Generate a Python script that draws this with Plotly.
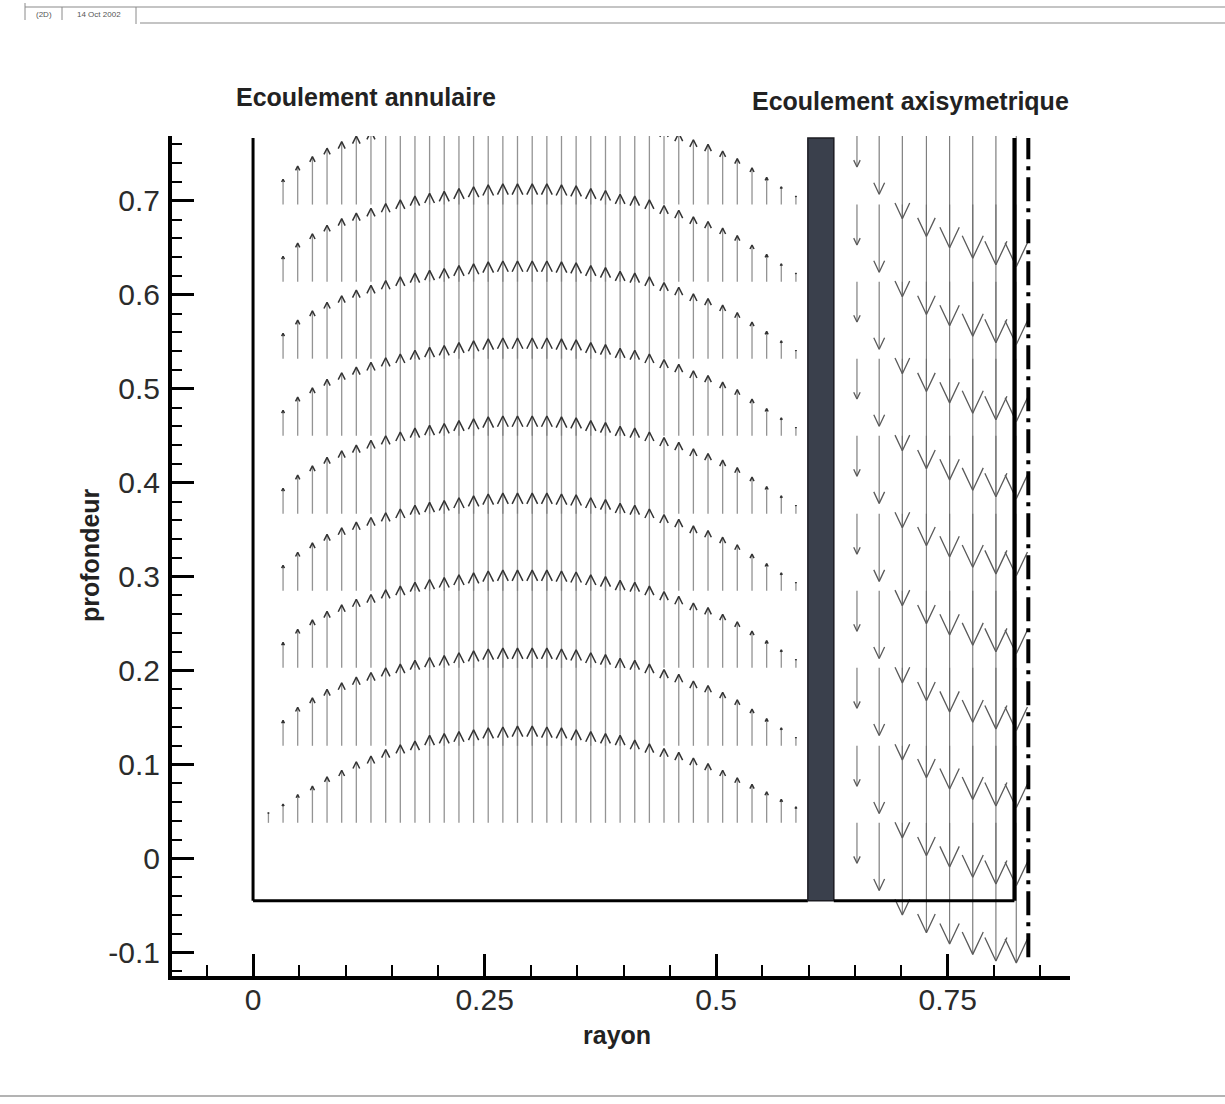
import plotly.graph_objects as go

# ---------------- data ----------------
# Annular region ("Ecoulement annulaire"): upward velocity vectors
ann_cols = [0.0166, 0.0324, 0.0482, 0.0641, 0.0799, 0.0957, 0.1115, 0.1273, 0.1432,
            0.1590, 0.1748, 0.1906, 0.2064, 0.2223, 0.2381, 0.2539, 0.2697, 0.2855,
            0.3014, 0.3172, 0.3330, 0.3488, 0.3646, 0.3805, 0.3963, 0.4121, 0.4279,
            0.4437, 0.4596, 0.4754, 0.4912, 0.5070, 0.5228, 0.5387, 0.5545, 0.5703,
            0.5861]
ann_rows = [0.038, 0.120, 0.203, 0.285, 0.367, 0.450, 0.532, 0.614, 0.696]
# vector length (in profondeur units) for the first row and for the rows above
ann_len_row0 = [0.011, 0.020, 0.030, 0.039, 0.049, 0.056, 0.065, 0.071, 0.078, 0.083,
                0.087, 0.093, 0.095, 0.097, 0.099, 0.101, 0.102, 0.103, 0.103, 0.102,
                0.101, 0.099, 0.097, 0.095, 0.093, 0.088, 0.084, 0.079, 0.075, 0.069,
                0.063, 0.056, 0.048, 0.041, 0.033, 0.025, 0.017]
ann_len_upper = [0.0, 0.027, 0.041, 0.051, 0.060, 0.067, 0.073, 0.078, 0.083, 0.087,
                 0.091, 0.094, 0.096, 0.099, 0.101, 0.103, 0.104, 0.104, 0.104, 0.104,
                 0.103, 0.102, 0.099, 0.097, 0.093, 0.091, 0.087, 0.081, 0.076, 0.069,
                 0.064, 0.057, 0.049, 0.039, 0.029, 0.019, 0.009]

# Axisymmetric region ("Ecoulement axisymetrique"): downward vectors
axi_cols = [0.652, 0.676, 0.701, 0.727, 0.752, 0.777, 0.802, 0.824]
axi_rows = [0.038, 0.120, 0.203, 0.285, 0.367, 0.450, 0.532, 0.614, 0.696, 0.779]
axi_len = [0.043, 0.072, 0.098, 0.117, 0.129, 0.140, 0.147, 0.149]

# geometry of the domain
wall_left_x = 0.0
wall_bottom_y = -0.045
domain_top_y = 0.767
bar_x0, bar_x1 = 0.599, 0.627
outer_wall_x = 0.822
sym_axis_x = 0.837
sym_axis_bottom = -0.105

x_tick_vals = [0, 0.25, 0.5, 0.75]
x_tick_text = ["0", "0.25", "0.5", "0.75"]
y_tick_vals = [-0.1, 0, 0.1, 0.2, 0.3, 0.4, 0.5, 0.6, 0.7]
y_tick_text = ["-0.1", "0", "0.1", "0.2", "0.3", "0.4", "0.5", "0.6", "0.7"]

# ---------------- layout constants ----------------
W, H = 1225, 1104
ML, MR, MT, MB = 172, 155, 136, 128
X_RANGE = [-0.0875, 0.882]
Y_RANGE = [-0.125, 0.769]
PW, PH = W - ML - MR, H - MT - MB
PX_X = PW / (X_RANGE[1] - X_RANGE[0])
PX_Y = PH / (Y_RANGE[1] - Y_RANGE[0])


def px_to_paper(px, py):
    return (px - ML) / PW, (H - MB - py) / PH


def build_arrows(cols, rows, len_for_row, sign, head_frac, tan_half):
    sx, sy, hx, hy = [], [], [], []
    for k, y0 in enumerate(rows):
        lens = len_for_row(k)
        for x, L in zip(cols, lens):
            if L <= 0:
                continue
            tip = y0 + sign * L
            sx += [x, x, None]
            sy += [y0, tip, None]
            h = head_frac * L
            w = h * tan_half * PX_Y / PX_X
            base = tip - sign * h
            hx += [x - w, x, x + w, None]
            hy += [base, tip, base, None]
    return sx, sy, hx, hy


ax_sx, ax_sy, ax_hx, ax_hy = build_arrows(
    ann_cols, ann_rows, lambda k: ann_len_row0 if k == 0 else ann_len_upper,
    +1, 0.11, 0.5)
ay_sx, ay_sy, ay_hx, ay_hy = build_arrows(
    axi_cols, axi_rows, lambda k: axi_len, -1, 0.17, 0.47)

fig = go.Figure()
fig.add_trace(go.Scatter(x=ax_sx, y=ax_sy, mode="lines",
                         line=dict(color="rgba(120,120,120,0.8)", width=1.3),
                         hoverinfo="skip", showlegend=False))
fig.add_trace(go.Scatter(x=ax_hx, y=ax_hy, mode="lines",
                         line=dict(color="#333333", width=1.5),
                         hoverinfo="skip", showlegend=False))
fig.add_trace(go.Scatter(x=ay_sx, y=ay_sy, mode="lines",
                         line=dict(color="rgba(105,105,105,0.85)", width=1.2),
                         hoverinfo="skip", showlegend=False))
fig.add_trace(go.Scatter(x=ay_hx, y=ay_hy, mode="lines",
                         line=dict(color="#5a5a5a", width=1.3),
                         hoverinfo="skip", showlegend=False))

shapes = [
    # annular left wall and bottom
    dict(type="line", xref="x", yref="y", x0=wall_left_x, x1=wall_left_x,
         y0=wall_bottom_y, y1=domain_top_y, line=dict(color="black", width=3)),
    dict(type="line", xref="x", yref="y", x0=wall_left_x, x1=bar_x0,
         y0=wall_bottom_y, y1=wall_bottom_y, line=dict(color="black", width=3)),
    # inner tube wall (thick bar)
    dict(type="rect", xref="x", yref="y", x0=bar_x0, x1=bar_x1,
         y0=wall_bottom_y, y1=domain_top_y, fillcolor="#3a404c",
         line=dict(color="#1c1c22", width=1.5)),
    # axisymmetric region bottom and outer line
    dict(type="line", xref="x", yref="y", x0=bar_x1, x1=outer_wall_x,
         y0=wall_bottom_y, y1=wall_bottom_y, line=dict(color="black", width=3)),
    dict(type="line", xref="x", yref="y", x0=outer_wall_x, x1=outer_wall_x,
         y0=wall_bottom_y, y1=domain_top_y, line=dict(color="black", width=4)),
    # symmetry axis (dash-dot)
    dict(type="line", xref="x", yref="y", x0=sym_axis_x, x1=sym_axis_x,
         y0=sym_axis_bottom, y1=domain_top_y,
         line=dict(color="black", width=4, dash="24px,7px,4px,7px")),
]

# page decorations (scanned sheet header and borders)
for (px0, py0, px1, py1, col, wd) in [
        (25, 7, 1225, 7, "#8a8a8a", 1.2),
        (140, 23, 1225, 23, "#b0b0b0", 1.5),
        (0, 1096, 1225, 1096, "#9a9a9a", 1.5),
        (25, 3, 25, 20, "#8a8a8a", 1),
        (62, 7, 62, 20, "#8a8a8a", 1),
        (136, 7, 136, 24, "#8a8a8a", 1)]:
    a0 = px_to_paper(px0, py0)
    a1 = px_to_paper(px1, py1)
    shapes.append(dict(type="line", xref="paper", yref="paper",
                       x0=a0[0], y0=a0[1], x1=a1[0], y1=a1[1],
                       line=dict(color=col, width=wd)))

annotations = []


def add_text(text, px, py, size, bold=True, angle=0, color="#222222"):
    xp, yp = px_to_paper(px, py)
    annotations.append(dict(text=f"<b>{text}</b>" if bold else text,
                            xref="paper", yref="paper", x=xp, y=yp,
                            xanchor="center", yanchor="middle",
                            showarrow=False, textangle=angle,
                            font=dict(family="Liberation Sans, Arial, sans-serif",
                                      size=size, color=color)))


add_text("Ecoulement annulaire", 366, 97, 25)
add_text("Ecoulement axisymetrique", 910, 101, 25)
add_text("rayon", 617, 1035, 25)
add_text("profondeur", 90, 555, 25, angle=-90)
add_text("(2D)", 44, 14, 8, bold=False, color="#555")
add_text("14 Oct 2002", 99, 14, 8, bold=False, color="#555")

tick_font = dict(family="Liberation Sans, Arial, sans-serif", size=30, color="#2b2b2b")

fig.update_layout(
    width=W, height=H,
    margin=dict(l=ML, r=MR, t=MT, b=MB, autoexpand=False),
    paper_bgcolor="white", plot_bgcolor="white",
    shapes=shapes, annotations=annotations,
    xaxis=dict(range=X_RANGE, showgrid=False, zeroline=False,
               showline=True, linecolor="black", linewidth=4, mirror=False,
               tickmode="array", tickvals=x_tick_vals, ticktext=x_tick_text,
               ticks="inside", ticklen=22, tickwidth=3, tickcolor="black",
               tickfont=tick_font, ticklabelstandoff=-6,
               minor=dict(tickmode="linear", tick0=0, dtick=0.05, ticks="inside",
                          ticklen=11, tickwidth=1.6, tickcolor="black")),
    yaxis=dict(range=Y_RANGE, showgrid=False, zeroline=False,
               showline=True, linecolor="black", linewidth=4, mirror=False,
               tickmode="array", tickvals=y_tick_vals, ticktext=y_tick_text,
               ticks="inside", ticklen=22, tickwidth=3, tickcolor="black",
               tickfont=tick_font, ticklabelstandoff=2,
               minor=dict(tickmode="linear", tick0=0, dtick=0.02, ticks="inside",
                          ticklen=10, tickwidth=1.6, tickcolor="black")),
)

fig.write_html("out.html")
